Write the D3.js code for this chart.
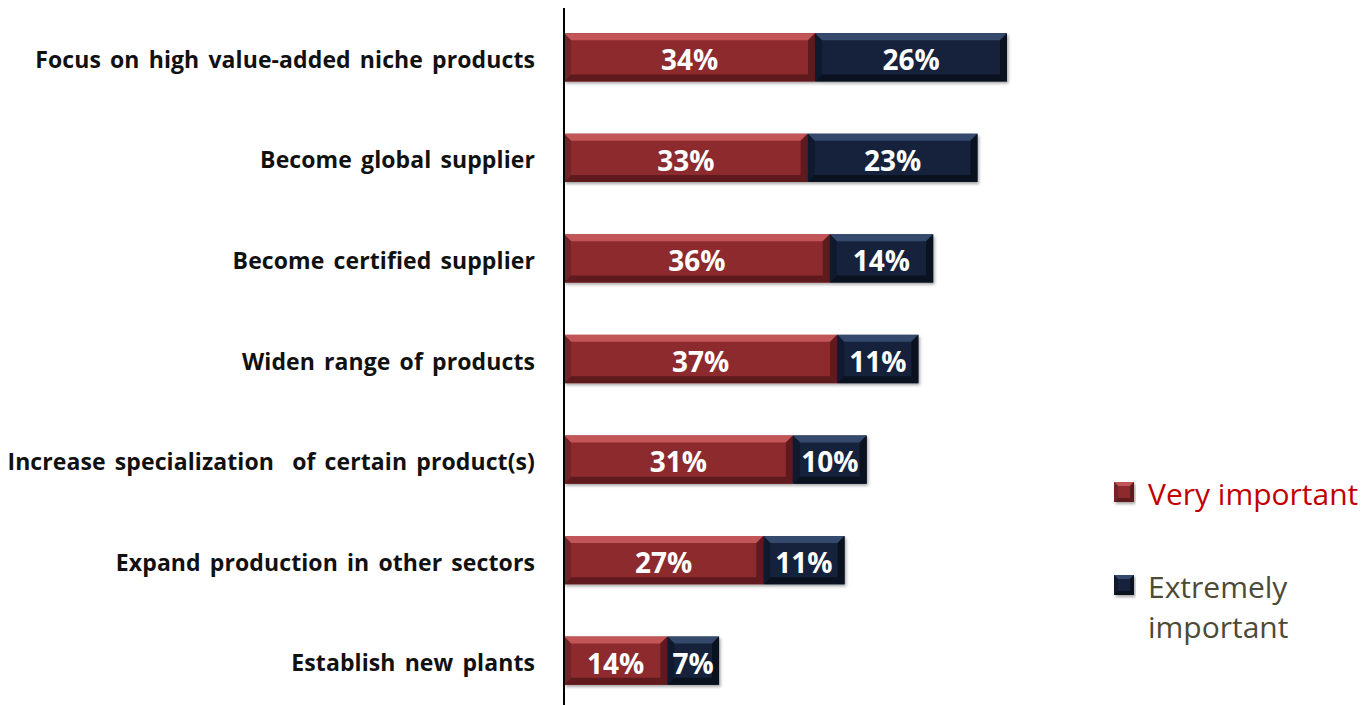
<!DOCTYPE html>
<html>
<head>
<meta charset="utf-8">
<script src="https://cdn.jsdelivr.net/npm/d3@7"></script>
<style>
  body { margin: 0; background: #fff; }
  svg { display: block; font-family: "Open Sans", sans-serif; }
</style>
</head>
<body>
<div class="container"></div>
<script>
(function(d3) {
  "use strict";

  var categories = [
    "Focus on high value-added niche products",
    "Become global supplier",
    "Become certified supplier",
    "Widen range of products",
    "Increase specialization  of certain product(s)",
    "Expand production in other sectors",
    "Establish new plants"
  ];
  var veryImportant = [34, 33, 36, 37, 31, 27, 14];
  var extremelyImportant = [26, 23, 14, 11, 10, 11, 7];
  var seriesNames = ["Very important", "Extremely important"];

  var width = 1364, height = 705;

  var palette = {
    very: { face: "#8c2b2f", top: "#c25558", bottom: "#5e1a1d", side: "#74232a", text: "#c00000" },
    extreme: { face: "#15223b", top: "#34496b", bottom: "#0a111f", side: "#0f1a2e", text: "#4d4a36" }
  };

  var svg = d3.select(".container").append("svg")
      .attr("width", width)
      .attr("height", height);

  var x = d3.scaleLinear().domain([0, 60]).range([564, 1007]);
  var y = d3.scaleBand().domain(categories).range([7, 711]).paddingInner(0.52).paddingOuter(0.26);

  var rows = categories.map(function(c, i) {
    return [
      { cat: c, key: "very", x0: 0, x1: veryImportant[i], v: veryImportant[i] },
      { cat: c, key: "extreme", x0: veryImportant[i], x1: veryImportant[i] + extremelyImportant[i], v: extremelyImportant[i] }
    ];
  });
  var segs = d3.merge(rows);

  var defs = svg.append("defs");
  var f = defs.append("filter").attr("id", "shadow").attr("x", "-5%").attr("y", "-20%").attr("width", "115%").attr("height", "150%");
  f.append("feDropShadow").attr("dx", 1.5).attr("dy", 2).attr("stdDeviation", 1.5).attr("flood-color", "#000").attr("flood-opacity", 0.35);

  function bevel(g, x0, y0, w, h, c, b) {
    var x1 = x0 + w, y1 = y0 + h;
    b = Math.min(b, w / 2, h / 2);
    g.append("rect").attr("x", x0).attr("y", y0).attr("width", w).attr("height", h)
        .attr("fill", c.face).attr("filter", "url(#shadow)");
    g.append("polygon").attr("fill", c.top)
        .attr("points", [[x0, y0], [x1, y0], [x1 - b, y0 + b], [x0 + b, y0 + b]].join(" "));
    g.append("polygon").attr("fill", c.bottom)
        .attr("points", [[x0, y1], [x1, y1], [x1 - b, y1 - b], [x0 + b, y1 - b]].join(" "));
    g.append("polygon").attr("fill", c.side)
        .attr("points", [[x0, y0], [x0 + b, y0 + b], [x0 + b, y1 - b], [x0, y1]].join(" "));
    g.append("polygon").attr("fill", c.bottom)
        .attr("points", [[x1, y0], [x1 - b, y0 + b], [x1 - b, y1 - b], [x1, y1]].join(" "));
  }

  var bars = svg.append("g").attr("class", "bars");
  segs.forEach(function(d) {
    var g = bars.append("g");
    bevel(g, x(d.x0), y(d.cat), x(d.x1) - x(d.x0), y.bandwidth(), palette[d.key], 7);
    g.append("text")
        .attr("x", (x(d.x0) + x(d.x1)) / 2)
        .attr("y", y(d.cat) + y.bandwidth() / 2)
        .attr("dy", "0.46em")
        .attr("text-anchor", "middle")
        .attr("fill", "#fff")
        .style("font-size", "28px")
        .style("font-weight", "bold")
        .text(d.v + "%");
  });

  // axis line
  svg.append("line")
      .attr("x1", x(0)).attr("x2", x(0))
      .attr("y1", 8).attr("y2", height)
      .attr("stroke", "#000").attr("stroke-width", 2);

  svg.append("g").selectAll("text")
      .data(categories)
    .enter().append("text")
      .attr("x", 535)
      .attr("y", function(d) { return y(d) + y.bandwidth() / 2; })
      .attr("dy", "0.46em")
      .attr("text-anchor", "end")
      .attr("fill", "#111")
      .style("font-size", "23px")
      .style("font-weight", "bold")
      .style("letter-spacing", "0.1px")
      .style("word-spacing", "3px")
      .style("white-space", "pre")
      .attr("xml:space", "preserve")
      .text(function(d) { return d; });

  // legend
  var legend = svg.append("g").attr("class", "legend");
  var keys = ["very", "extreme"];
  var ly = [492, 585];
  keys.forEach(function(k, i) {
    var g = legend.append("g");
    bevel(g, 1114, ly[i] - 10, 20, 20, palette[k], 4);
    var t = g.append("text")
        .attr("x", 1148)
        .attr("y", ly[i] + 13)
        .attr("fill", palette[k].text)
        .style("font-size", "30px");
    if (i === 0) {
      t.text(seriesNames[i]);
    } else {
      var parts = seriesNames[i].split(" ");
      t.append("tspan").attr("x", 1148).text(parts[0]);
      t.append("tspan").attr("x", 1148).attr("dy", 40).text(parts[1]);
    }
  });

}(d3));
</script>
</body>
</html>
